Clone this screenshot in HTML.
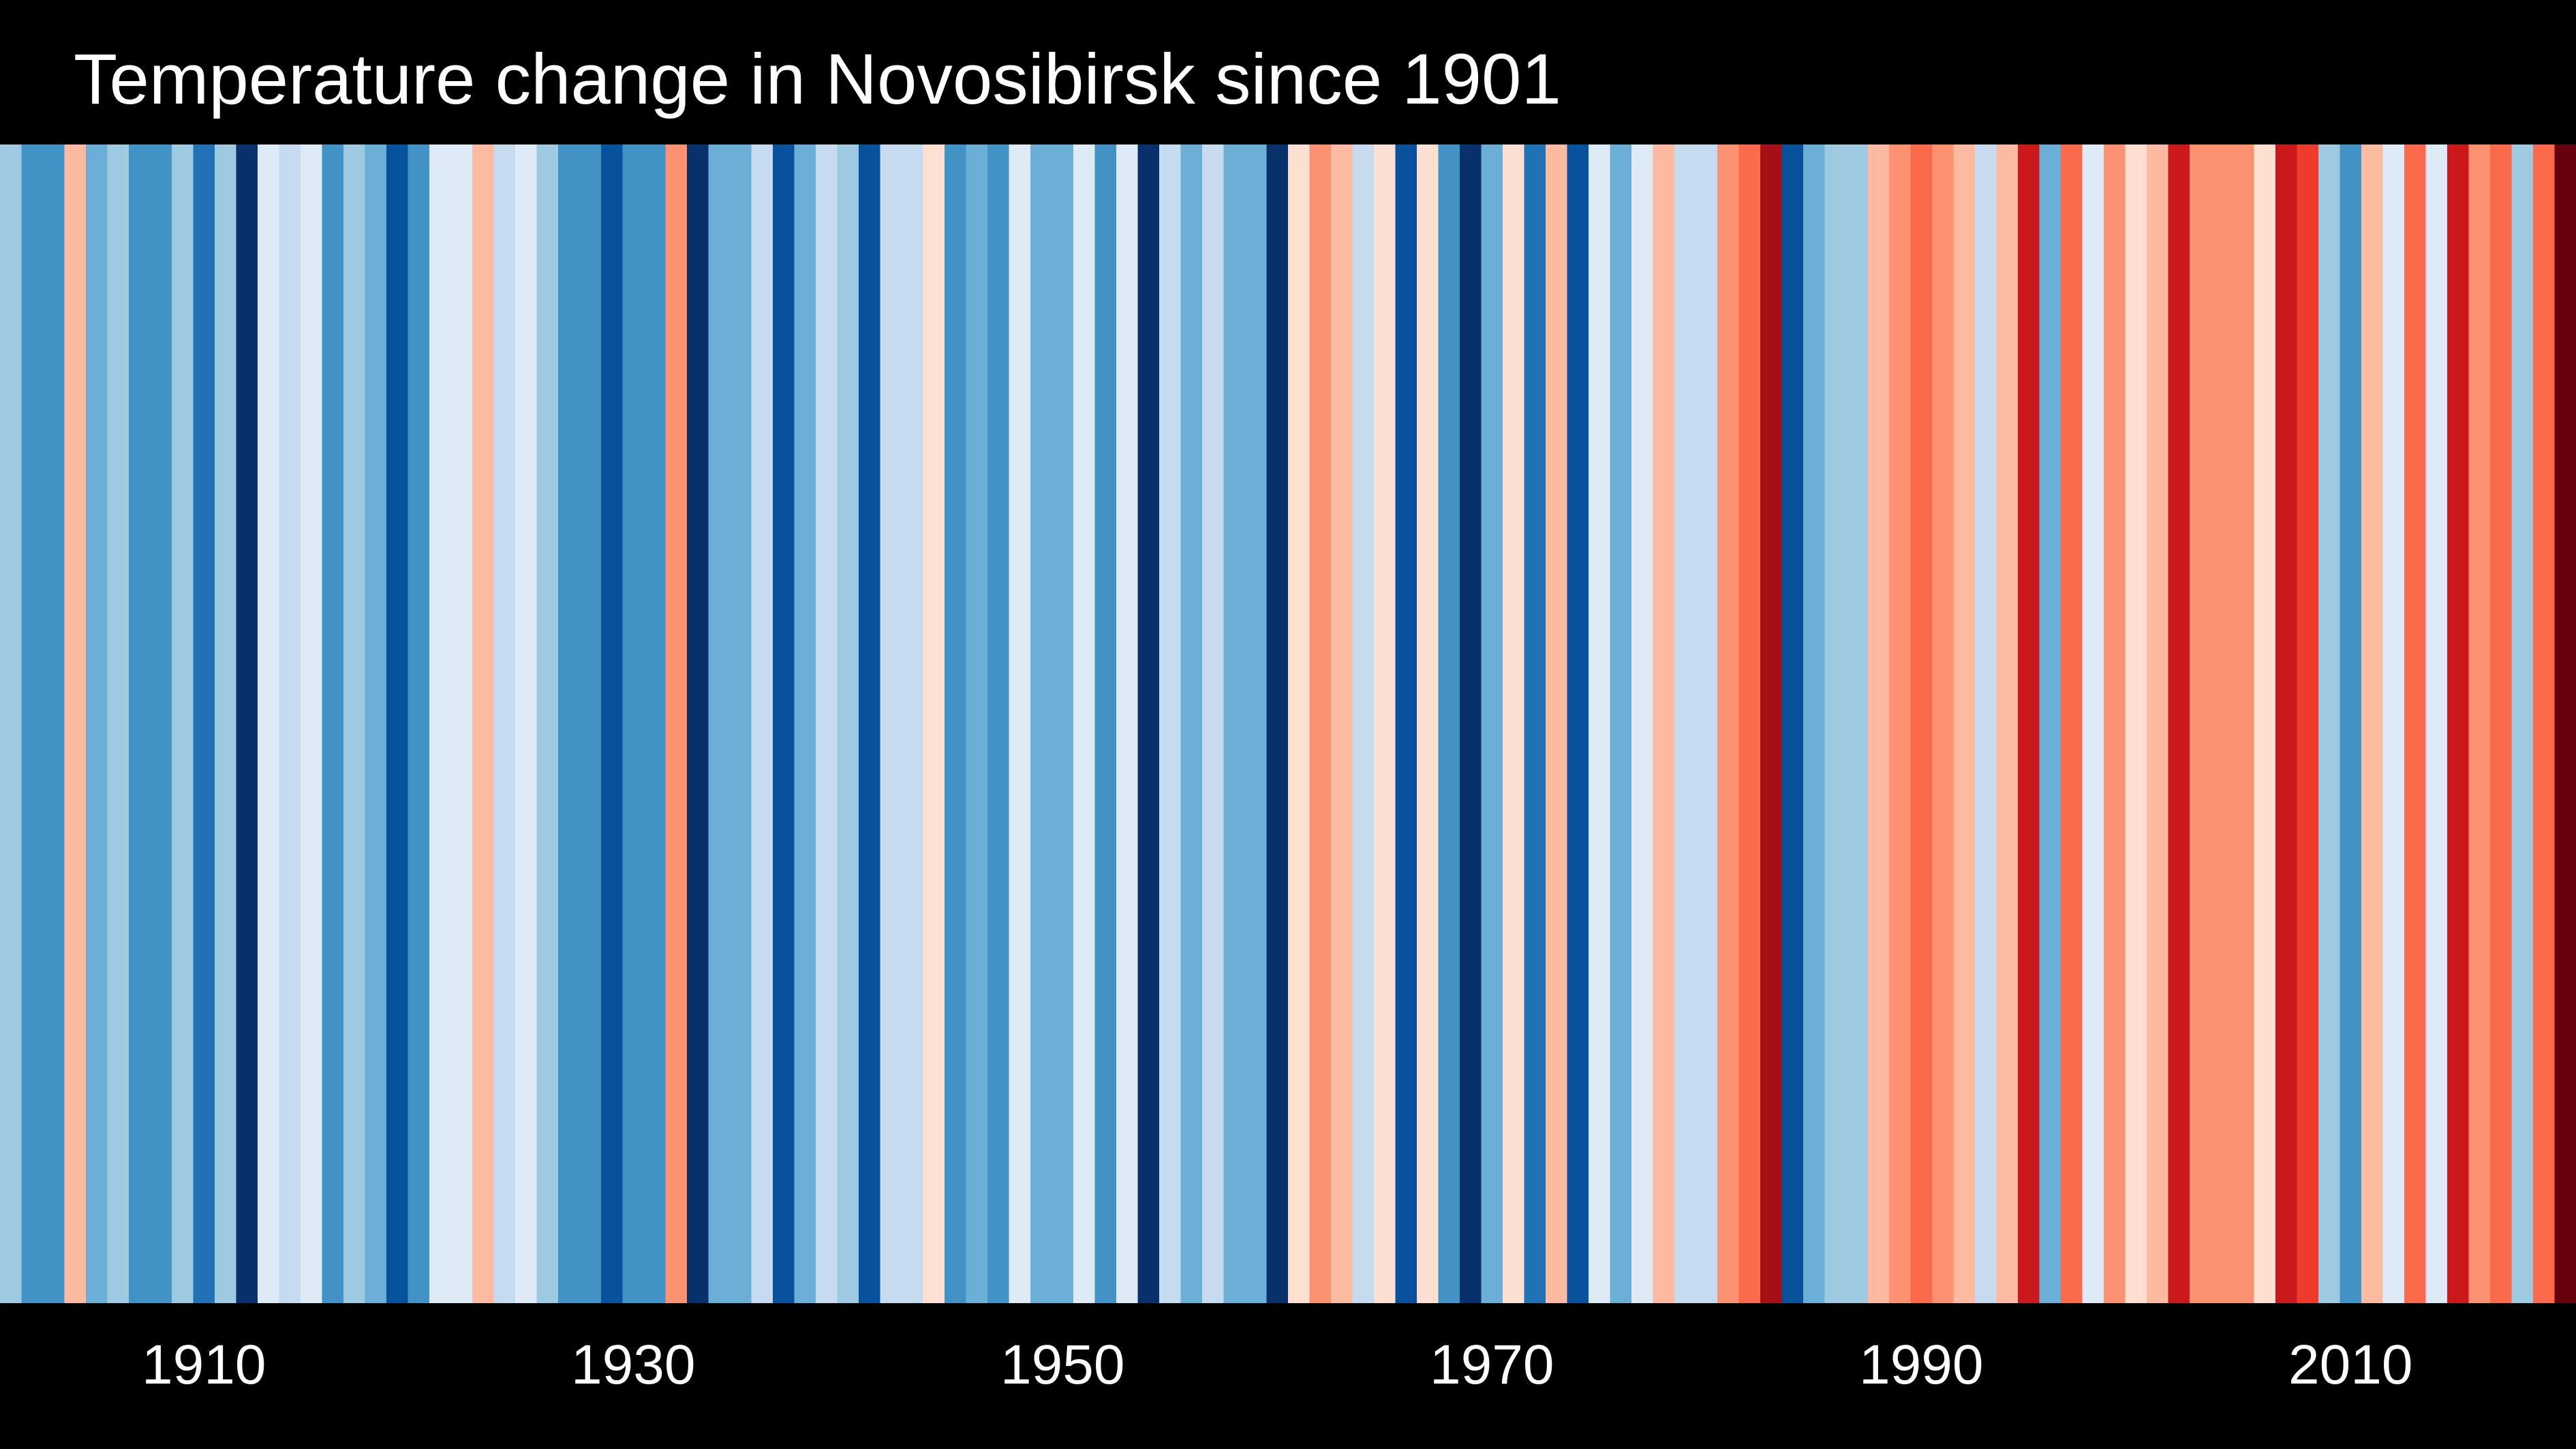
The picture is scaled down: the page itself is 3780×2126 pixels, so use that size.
<!DOCTYPE html>
<html><head><meta charset="utf-8"><style>html,body{margin:0;padding:0;background:#000}svg{display:block}</style></head>
<body>
<svg id="chart" width="3780" height="2126" viewBox="0 0 3780 2126" xmlns="http://www.w3.org/2000/svg">
<rect x="0" y="0" width="3780" height="2126" fill="#000"/>
<text x="108" y="152" fill="#fff" font-family="'Liberation Sans', sans-serif" font-size="105">Temperature change in Novosibirsk since 1901</text>
<g id="stripes"></g>
<g id="ticks"></g>
</svg>
<script>
const startYear = 1901;
const anomalyLevels = [
-3,-5,-5,2,-4,-3,-5,-5,-3,-6,-3,-8,-1,-2,-1,-5,-3,-4,-7,-5,-1,-1,2,-2,-1,-3,-5,-5,-7,-5,
-5,3,-8,-4,-4,-2,-7,-4,-2,-3,-7,-2,-2,1,-5,-4,-5,-1,-4,-4,-1,-5,-1,-8,-2,-4,-2,-4,-4,-8,
1,3,2,-2,1,-7,1,-5,-8,-4,1,-6,2,-7,-1,-4,-1,2,-2,-2,3,4,7,-7,-4,-3,-3,2,3,4,
3,2,-2,2,6,-4,4,-1,3,1,2,6,3,3,3,1,6,5,-3,-5,2,-1,4,-1,6,3,4,-3,4,8
];
const tickYears = [1910,1930,1950,1970,1990,2010];
const blues = ['#deebf7','#c6dbef','#9ecae1','#6baed6','#4292c6','#2171b5','#08519c','#08306b'];
const reds = ['#fee0d2','#fcbba1','#fc9272','#fb6a4a','#ef3b2c','#cb181d','#a50f15','#67000d'];
function color(v){ return v<0 ? blues[Math.min(8,-v)-1] : reds[Math.max(1,Math.min(8,v))-1]; }
const X0=0, X1=3780, TOP=212, BOTTOM=1912;
const n = anomalyLevels.length;
const bw = (X1-X0)/n;
function xScale(year){ return X0 + (year-startYear)*bw; }
const NS='http://www.w3.org/2000/svg';
const sg=document.getElementById('stripes');
anomalyLevels.forEach((v,i)=>{
  const r=document.createElementNS(NS,'rect');
  
  
  r.setAttribute('x',xScale(startYear+i));
  r.setAttribute('y',TOP);
  r.setAttribute('width',bw+0.6);
  r.setAttribute('height',BOTTOM-TOP);
  r.setAttribute('fill',color(v));
  sg.appendChild(r);
});
const tg=document.getElementById('ticks');
tickYears.forEach(y=>{
  const t=document.createElementNS(NS,'text');
  
  
  t.setAttribute('x',xScale(y)+bw/2);
  t.setAttribute('y',2030);
  t.setAttribute('fill','#fff');
  t.setAttribute('text-anchor','middle');
  t.setAttribute('font-family',"'Liberation Sans', sans-serif");
  t.setAttribute('font-size','82');
  t.textContent=y;
  tg.appendChild(t);
});
</script>
</body></html>
